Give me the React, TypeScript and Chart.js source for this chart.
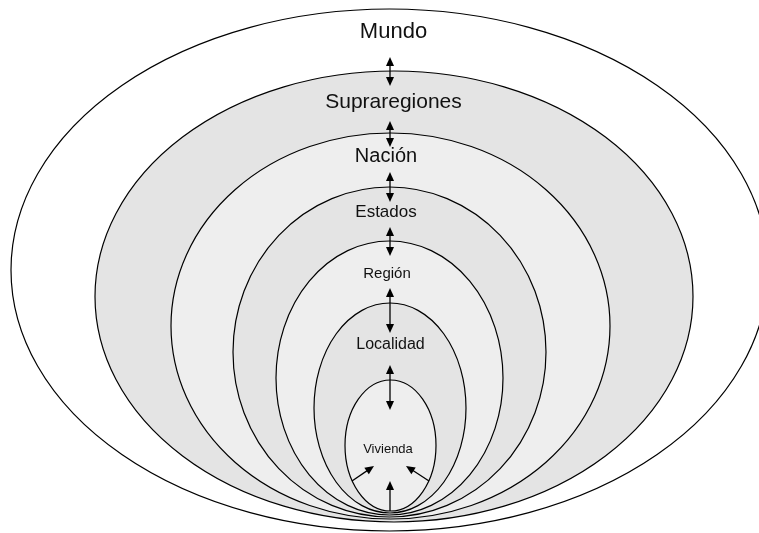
import React, { useEffect, useRef } from "react";
import { Chart, registerables } from "chart.js";

Chart.register(...registerables);

// Nested levels, outermost first
const levels = ["Mundo", "Supraregiones", "Nación", "Estados", "Región", "Localidad", "Vivienda"];
// Ellipse extents in diagram units
const ellipseLeft = [11, 95, 171, 233, 276, 314, 345];
const ellipseRight = [768, 693, 610, 546, 503, 466, 436];
const ellipseTop = [9, 71, 133, 187, 241, 303, 380];
const ellipseBottom = [531, 522, 519, 517, 515, 513, 511];
const ellipseFill = ["#ffffff", "#e4e4e4", "#eeeeee", "#e4e4e4", "#eeeeee", "#e4e4e4", "#eeeeee"];

// Labels
const labelX = [393.5, 393.5, 386, 386, 387, 390.5, 388];
const labelBaseline = [38, 108, 162, 217, 278, 349, 453];
const labelSize = [22, 21, 20, 17, 15, 16, 13];

// Double arrows between levels (vertical at arrowX)
const arrowX = 390;
const doubleArrowTop = [57, 121, 172, 227, 288, 365];
const doubleArrowBottom = [86, 147, 202, 256, 333, 410];

// Single arrows into Vivienda: [fromX, fromY, toX, toY]
const singleFromX = [390, 352, 429];
const singleFromY = [511, 481, 481];
const singleToX = [390, 374, 406];
const singleToY = [481, 466, 466];

function drawHead(ctx: CanvasRenderingContext2D, x1: number, y1: number, x2: number, y2: number) {
  const ang = Math.atan2(y2 - y1, x2 - x1);
  const len = 9;
  const half = 4;
  ctx.beginPath();
  ctx.moveTo(x2, y2);
  ctx.lineTo(x2 - len * Math.cos(ang) + half * Math.sin(ang), y2 - len * Math.sin(ang) - half * Math.cos(ang));
  ctx.lineTo(x2 - len * Math.cos(ang) - half * Math.sin(ang), y2 - len * Math.sin(ang) + half * Math.cos(ang));
  ctx.closePath();
  ctx.fill();
}

function drawShaft(ctx: CanvasRenderingContext2D, x1: number, y1: number, x2: number, y2: number, headA: boolean, headB: boolean) {
  const ang = Math.atan2(y2 - y1, x2 - x1);
  const sx = headA ? x1 + 6 * Math.cos(ang) : x1;
  const sy = headA ? y1 + 6 * Math.sin(ang) : y1;
  const ex = headB ? x2 - 6 * Math.cos(ang) : x2;
  const ey = headB ? y2 - 6 * Math.sin(ang) : y2;
  ctx.beginPath();
  ctx.moveTo(sx, sy);
  ctx.lineTo(ex, ey);
  ctx.stroke();
  if (headA) drawHead(ctx, x2, y2, x1, y1);
  if (headB) drawHead(ctx, x1, y1, x2, y2);
}

const diagramPlugin = {
  id: "nestedDiagram",
  afterDraw(chart: any) {
    const ctx: CanvasRenderingContext2D = chart.ctx;
    const xs = chart.scales.x;
    const ys = chart.scales.y;
    ctx.save();
    // ellipses
    levels.forEach((_, i) => {
      const l = xs.getPixelForValue(ellipseLeft[i]);
      const r = xs.getPixelForValue(ellipseRight[i]);
      const t = ys.getPixelForValue(ellipseTop[i]);
      const b = ys.getPixelForValue(ellipseBottom[i]);
      ctx.beginPath();
      ctx.ellipse((l + r) / 2, (t + b) / 2, Math.abs(r - l) / 2, Math.abs(b - t) / 2, 0, 0, Math.PI * 2);
      ctx.fillStyle = ellipseFill[i];
      ctx.fill();
      ctx.lineWidth = 1.2;
      ctx.strokeStyle = "#000000";
      ctx.stroke();
    });
    // labels
    ctx.fillStyle = "#111111";
    ctx.textAlign = "center";
    ctx.textBaseline = "alphabetic";
    levels.forEach((name, i) => {
      ctx.font = `${labelSize[i]}px "Liberation Sans", Arial, sans-serif`;
      ctx.fillText(name, xs.getPixelForValue(labelX[i]), ys.getPixelForValue(labelBaseline[i]));
    });
    // arrows
    ctx.strokeStyle = "#000000";
    ctx.fillStyle = "#000000";
    ctx.lineWidth = 1.3;
    const ax = xs.getPixelForValue(arrowX);
    doubleArrowTop.forEach((top, i) => {
      drawShaft(ctx, ax, ys.getPixelForValue(top), ax, ys.getPixelForValue(doubleArrowBottom[i]), true, true);
    });
    singleFromX.forEach((fx, i) => {
      drawShaft(
        ctx,
        xs.getPixelForValue(fx),
        ys.getPixelForValue(singleFromY[i]),
        xs.getPixelForValue(singleToX[i]),
        ys.getPixelForValue(singleToY[i]),
        false,
        true
      );
    });
    ctx.restore();
  },
};

export default function App() {
  const canvasRef = useRef<HTMLCanvasElement | null>(null);
  useEffect(() => {
    const prevMargin = document.body.style.margin;
    document.body.style.margin = "0";
    const chart = new Chart(canvasRef.current as HTMLCanvasElement, {
      type: "scatter",
      data: { datasets: [{ data: [], pointRadius: 0 }] },
      options: {
        animation: false,
        responsive: true,
        maintainAspectRatio: false,
        layout: { padding: 0 },
        plugins: { legend: { display: false }, tooltip: { enabled: false }, title: { display: false } },
        scales: {
          x: { type: "linear", min: 0, max: 759, display: false },
          y: { type: "linear", min: 0, max: 533, reverse: true, display: false },
        },
      },
      plugins: [diagramPlugin],
    });
    return () => {
      chart.destroy();
      document.body.style.margin = prevMargin;
    };
  }, []);
  return (
    <div style={{ position: "absolute", left: 0, top: 0, width: 759, height: 533, background: "#ffffff" }}>
      <canvas ref={canvasRef} />
    </div>
  );
}
